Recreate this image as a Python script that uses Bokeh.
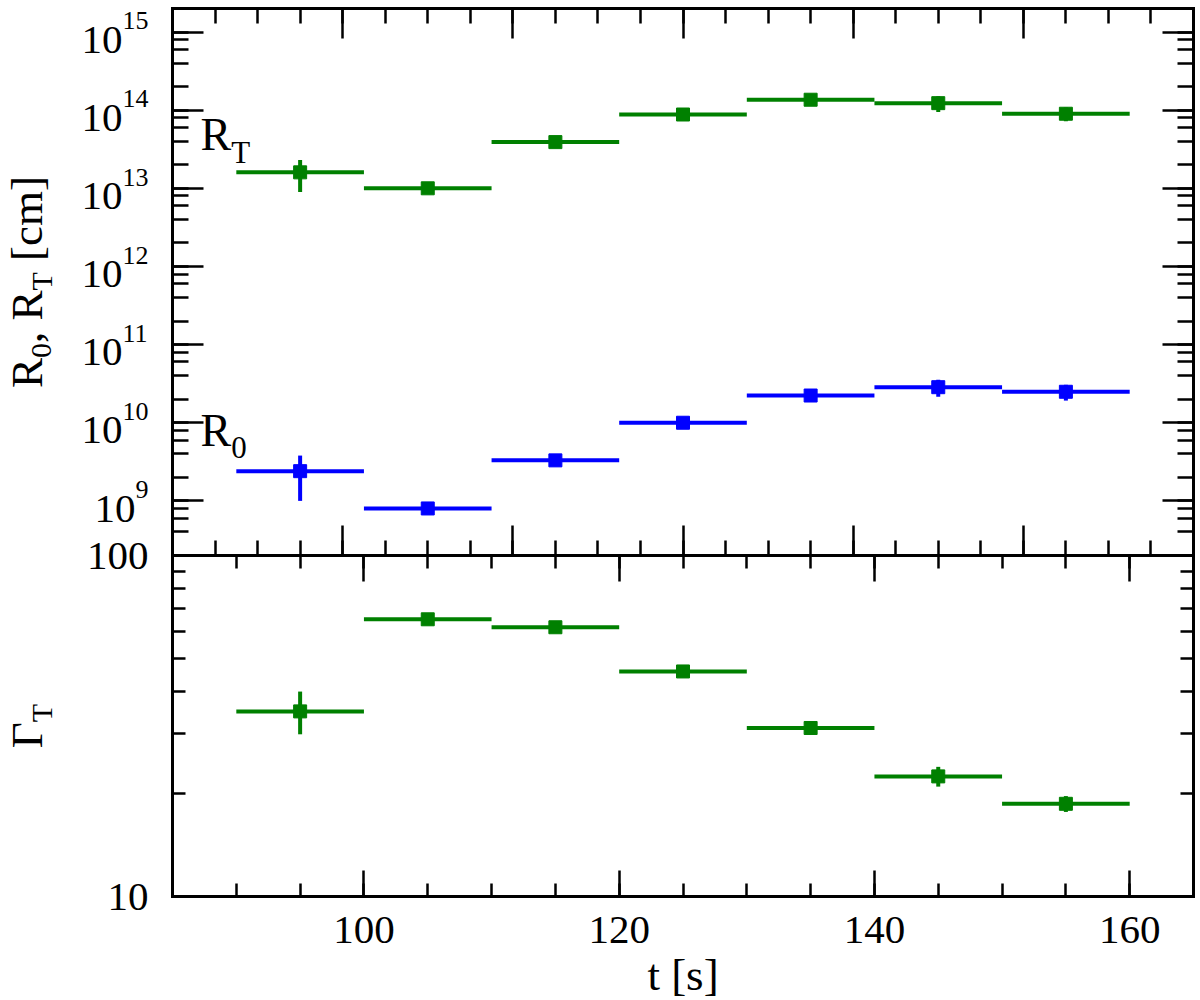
import math

from bokeh.embed import file_html
from bokeh.models import (CustomJSTickFormatter, FixedTicker, Label, LinearAxis,
                          LogAxis, LogScale, LogTicker, NumeralTickFormatter,
                          Range1d, SingleIntervalTicker)
from bokeh.plotting import figure
from bokeh.resources import INLINE

# ---------------------------------------------------------------- data
# time bins [s]
t_lo = [90, 100, 110, 120, 130, 140, 150]
t_hi = [100, 110, 120, 130, 140, 150, 160]
t_mid = [95, 105, 115, 125, 135, 145, 155]

# transparency radius R_T [cm]
r_t = [1.6e13, 1.0e13, 3.9e13, 8.8e13, 1.36e14, 1.23e14, 9.0e13]
r_t_err = [0.7e13, 0.1e13, 0.3e13, 0.6e13, 0.15e14, 0.28e14, 0.18e14]

# initial radius R_0 [cm]
r_0 = [2.4e9, 8.0e8, 3.3e9, 1.0e10, 2.23e10, 2.85e10, 2.49e10]
r_0_err = [1.4e9, 0.8e8, 0.3e9, 0.8e9, 0.35e10, 0.7e10, 0.57e10]

# Lorentz factor at transparency
gamma_t = [34.9, 65.0, 61.6, 45.7, 31.2, 22.5, 18.7]
gamma_t_err = [5.0, 1.8, 1.2, 1.0, 0.8, 1.5, 1.0]

# tick values
r_exponents = [9, 10, 11, 12, 13, 14, 15]
gamma_major = [10, 100]
gamma_minor = [20, 30, 40, 50, 60, 70, 80, 90]

# ---------------------------------------------------------------- layout
GREEN = "#008000"
BLUE = "#0000ff"
SERIF = "Liberation Serif"

W, H = 1200, 1000
LEFT, RIGHT, TOP, BOTTOM = 172, 7, 8, 104   # margins around the boxed panels
TOP_PX, BOT_PX = 547, 341                   # heights of the two stacked panels
BOX_W = W - LEFT - RIGHT

x_start, x_end = 85, 165
r_min, r_max = 2e8, 2e15
g_min, g_max = 10, 100

# The frame covers the whole canvas; the boxes are drawn by bounded axes,
# so every range is widened to reach the canvas edges.
x_ppu = BOX_W / (x_end - x_start)
x_range = Range1d(x_start - LEFT / x_ppu, x_end + RIGHT / x_ppu)

r_ppd = TOP_PX / math.log10(r_max / r_min)
r_range = Range1d(r_min / 10 ** ((H - TOP - TOP_PX) / r_ppd), r_max * 10 ** (TOP / r_ppd))

g_ppd = BOT_PX / math.log10(g_max / g_min)
g_range = Range1d(g_min / 10 ** (BOTTOM / g_ppd), g_min * 10 ** ((H - BOTTOM) / g_ppd))

DIV = 6                                      # plain divisions along the upper box
d_ppu = BOX_W / DIV
div_range = Range1d(-LEFT / d_ppu, DIV + RIGHT / d_ppu)

p = figure(width=W, height=H, output_backend="svg", toolbar_location=None,
           x_range=x_range, y_range=r_range, y_axis_type="log",
           x_axis_location=None, y_axis_location=None,
           min_border=0, min_border_left=0, min_border_right=0,
           min_border_top=0, min_border_bottom=0)
p.extra_y_ranges = {"gamma": g_range}
p.extra_y_scales = {"gamma": LogScale()}
p.extra_x_ranges = {"div": div_range}
p.grid.visible = False
p.outline_line_color = None
p.background_fill_color = "white"
p.border_fill_color = "white"

blank = CustomJSTickFormatter(code="return ''")


def style(ax, major, minor, blank_labels=True):
    ax.major_tick_in = major
    ax.major_tick_out = 0
    ax.minor_tick_in = minor
    ax.minor_tick_out = 0
    ax.major_tick_line_width = 2.5
    ax.minor_tick_line_width = 2.5
    ax.major_tick_line_color = "black"
    ax.minor_tick_line_color = "black"
    ax.axis_line_width = 3
    ax.axis_line_color = "black"
    ax.axis_line_cap = "square"
    if blank_labels:
        ax.formatter = blank
        ax.major_label_standoff = 0
    return ax


# upper box: radius axes (left/right) and plain division ticks (bottom/top)
for side, loc in (("left", x_start), ("right", x_end)):
    ax = LogAxis(ticker=LogTicker(desired_num_ticks=8), bounds=(r_min, r_max),
                 fixed_location=loc)
    p.add_layout(style(ax, 31, 16), side)
for side, loc in (("below", r_min), ("above", r_max)):
    ax = LinearAxis(x_range_name="div", fixed_location=loc, bounds=(0, DIV),
                    ticker=SingleIntervalTicker(interval=1, num_minor_ticks=4))
    p.add_layout(style(ax, 30, 15), side)

# lower box: gamma axes
g_ticker = FixedTicker(ticks=gamma_major, minor_ticks=gamma_minor)
g_left = LogAxis(y_range_name="gamma", bounds=(g_min, g_max), fixed_location=x_start,
                 ticker=g_ticker)
style(g_left, 26, 13, blank_labels=False)
g_left.formatter = NumeralTickFormatter(format="0")
g_left.major_label_standoff = 24
g_left.major_label_text_font = SERIF
g_left.major_label_text_font_size = "41px"
g_left.major_label_text_color = "black"
p.add_layout(g_left, "left")

g_right = LogAxis(y_range_name="gamma", bounds=(g_min, g_max), fixed_location=x_end,
                  ticker=g_ticker)
p.add_layout(style(g_right, 26, 13), "right")

t_ticker = SingleIntervalTicker(interval=20, num_minor_ticks=4)
t_top = LinearAxis(fixed_location=r_min, ticker=t_ticker, bounds=(x_start, x_end))
p.add_layout(style(t_top, 26, 13), "above")

t_axis = LinearAxis(y_range_name="gamma", fixed_location=g_min, ticker=t_ticker,
                    bounds=(x_start, x_end))
style(t_axis, 26, 13, blank_labels=False)
t_axis.major_label_standoff = 20
t_axis.major_label_text_font = SERIF
t_axis.major_label_text_font_size = "41px"
t_axis.major_label_text_color = "black"
p.add_layout(t_axis, "below")


# ---------------------------------------------------------------- text
MID = 0.3375   # baseline sits this many em below the centre of the text box


def label(text, x, y, size, dx=0.0, dy=0.0, angle=0.0, **kw):
    """Place text so that its baseline starts dx px right / dy px above (x, y)."""
    if angle:
        xo, yo = dx - MID * size, dy
    else:
        xo, yo = dx, dy + MID * size
    p.add_layout(Label(x=x, y=y, text=text, text_font=SERIF,
                       text_font_size=f"{size}px", text_color="black",
                       text_baseline="middle", x_offset=xo, y_offset=yo,
                       angle=angle, **kw))


# decade tick labels 10^n
for e in r_exponents:
    sup = str(e)
    edge = -24 - 13 * len(sup)
    label("10", x_start, 10.0 ** e, 41, dx=edge, dy=-21.5, text_align="right")
    label(sup, x_start, 10.0 ** e, 26, dx=edge, dy=2.5, text_align="left")

EM = {"R": 0.667, "T": 0.611, "\u0393": 0.578, "0": 0.5, ",": 0.25, " ": 0.25,
      "[": 0.333, "]": 0.333, "c": 0.444, "m": 0.778, "t": 0.278, "s": 0.389}


def width(s, size):
    return sum(EM[c] for c in s) * size


def vertical_title(pieces, y, y_range_name, base_x):
    total = sum(width(s, size) for s, size, _ in pieces)
    along = -total / 2
    for s, size, shift in pieces:
        lead = len(s) - len(s.lstrip(" "))
        along += width(" " * lead, size)
        label(s.lstrip(" "), x_start, y, size, dx=base_x + shift, dy=along,
              angle=math.pi / 2, text_align="left", y_range_name=y_range_name)
        along += width(s.lstrip(" "), size)


vertical_title([("R", 45, 0), ("0", 30, 9), (", R", 45, 0), ("T", 30, 9), (" [cm]", 45, 0)],
               math.sqrt(r_min * r_max), "default", -130)
vertical_title([("\u0393", 45, 0), ("T", 30, 9)],
               math.sqrt(g_min * g_max), "gamma", -130)

# time axis title
label("t [s]", (x_start + x_end) / 2, g_min, 45, dy=-94, text_align="center",
      y_range_name="gamma")

# series names inside the upper box
rt_anchor, r0_anchor = 3.05e13, 4.97e9
label("R", x_start, rt_anchor, 46, dx=28, text_align="left")
label("T", x_start, rt_anchor, 31, dx=28 + width("R", 46), dy=-12, text_align="left")
label("R", x_start, r0_anchor, 46, dx=28, text_align="left")
label("0", x_start, r0_anchor, 31, dx=28 + width("R", 46), dy=-11, text_align="left")


# ---------------------------------------------------------------- series
def binned(vals, errs, color, y_range_name="default"):
    p.segment(x0=t_lo, x1=t_hi, y0=vals, y1=vals, line_color=color, line_width=4,
              y_range_name=y_range_name)
    p.segment(x0=t_mid, x1=t_mid, y0=[v - e for v, e in zip(vals, errs)],
              y1=[v + e for v, e in zip(vals, errs)], line_color=color, line_width=4,
              y_range_name=y_range_name)
    p.scatter(t_mid, vals, marker="square", size=13, fill_color=color, line_color=color,
              y_range_name=y_range_name)


binned(r_t, r_t_err, GREEN)
binned(r_0, r_0_err, BLUE)
binned(gamma_t, gamma_t_err, GREEN, "gamma")

open("out.html", "w").write(file_html(p, INLINE))
